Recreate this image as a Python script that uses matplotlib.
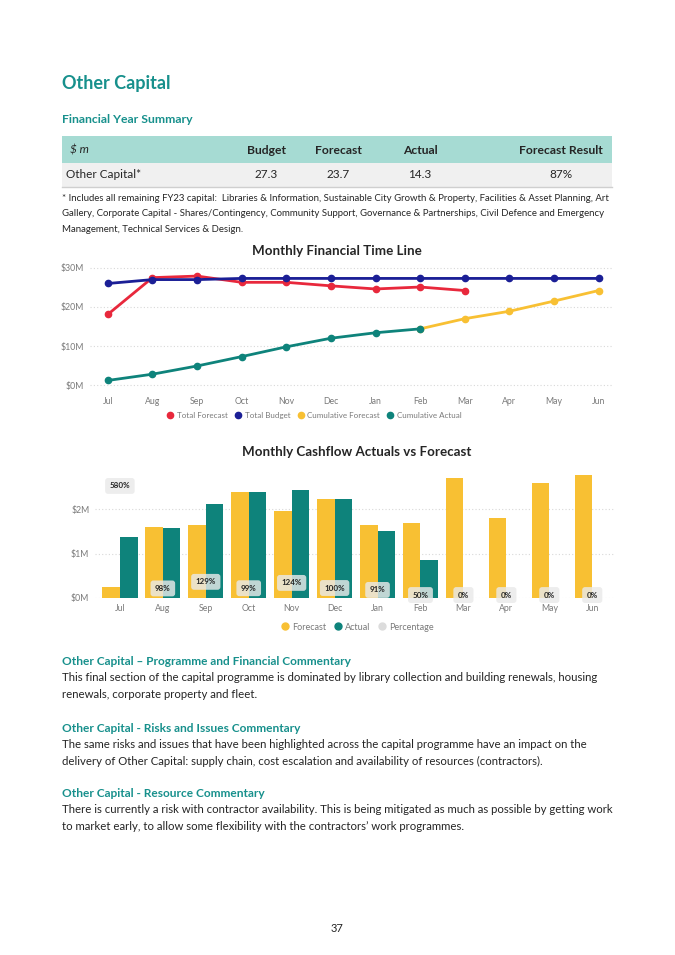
import numpy as np
import matplotlib
matplotlib.use("Agg")
import matplotlib.pyplot as plt
from matplotlib.patches import Rectangle
from matplotlib.lines import Line2D
from matplotlib.ticker import FuncFormatter

plt.rcParams['font.family'] = ['Lato', 'DejaVu Sans']

# ---- data ----
months = ['Jul', 'Aug', 'Sep', 'Oct', 'Nov', 'Dec', 'Jan', 'Feb', 'Mar', 'Apr', 'May', 'Jun']

table_cols = ['$ m', 'Budget', 'Forecast', 'Actual', 'Forecast Result']
table_row = ['Other Capital*', '27.3', '23.7', '14.3', '87%']

total_forecast = [18.1, 27.5, 27.9, 26.3, 26.3, 25.4, 24.6, 25.1, 24.2, np.nan, np.nan, np.nan]
total_budget = [26.0, 27.0, 27.0, 27.3, 27.3, 27.3, 27.3, 27.3, 27.3, 27.3, 27.3, 27.3]
cum_forecast = [np.nan, np.nan, np.nan, np.nan, np.nan, np.nan, np.nan, 14.4, 17.0, 18.9, 21.5, 24.2]
cum_actual = [1.2, 2.8, 4.9, 7.3, 9.8, 12.0, 13.4, 14.4, np.nan, np.nan, np.nan, np.nan]

bar_forecast = [0.24, 1.60, 1.64, 2.39, 1.96, 2.22, 1.65, 1.68, 2.71, 1.81, 2.58, 2.76]
bar_actual = [1.37, 1.57, 2.11, 2.38, 2.43, 2.22, 1.50, 0.85, 0, 0, 0, 0]
percentage = [580, 98, 129, 99, 124, 100, 91, 50, 0, 0, 0, 0]

TEAL = '#17908c'
DARK = '#252525'
GREY = '#7a7a7a'
RED = '#e8283c'
NAVY = '#1b1f96'
YELLOW = '#f8c033'
GREEN = '#0e837b'

W, H = 675, 955
fig = plt.figure(figsize=(W / 100, H / 100), dpi=100)
fig.patch.set_facecolor('white')


def fx(x):
    return x / W


def fy(y):
    return 1 - y / H


# ---- headings & table ----
fig.text(fx(62), fy(83), 'Other Capital', fontsize=13, fontweight='bold', color=TEAL, va='center')
fig.text(fx(62), fy(119), 'Financial Year Summary', fontsize=8.8, fontweight='bold', color=TEAL, va='center')

fig.patches.append(Rectangle((fx(62), fy(163)), fx(550), 27 / H, transform=fig.transFigure,
                             facecolor='#a6dbd3', edgecolor='none'))
fig.patches.append(Rectangle((fx(62), fy(187)), fx(550), 24 / H, transform=fig.transFigure,
                             facecolor='#f0f0f0', edgecolor='none'))
fig.lines.append(Line2D([fx(62), fx(612)], [fy(187), fy(187)], transform=fig.transFigure,
                        color='#cfcfcf', lw=1))
col_x = [70, 266, 338, 420, 561]
for i, (c, v) in enumerate(zip(table_cols, table_row)):
    ha = 'left' if i == 0 else 'center'
    if i == 0:
        fig.text(fx(col_x[i]), fy(150), c, fontsize=8.5, fontstyle='italic', color=DARK, ha=ha, va='center')
    else:
        fig.text(fx(col_x[i]), fy(150), c, fontsize=8.7, fontweight='bold', color=DARK, ha=ha, va='center')
    fig.text(fx(col_x[i] if i else 66), fy(175), v, fontsize=8.5, color=DARK, ha=ha, va='center')

foot = ["* Includes all remaining FY23 capital:  Libraries & Information, Sustainable City Growth & Property, Facilities & Asset Planning, Art",
        "Gallery, Corporate Capital - Shares/Contingency, Community Support, Governance & Partnerships, Civil Defence and Emergency",
        "Management, Technical Services & Design."]
for i, line in enumerate(foot):
    fig.text(fx(62), fy(198 + 15.5 * i), line, fontsize=6.9, color=DARK, va='center')

# ---- line chart ----
x = np.arange(len(months))
ax1 = fig.add_axes([fx(90), fy(391), fx(522), 129 / H])
ax1.set_xlim(-0.4, 11.3)
ax1.set_ylim(-1.5, 31.5)
ax1.plot(x, cum_actual, color=GREEN, lw=2, marker='o', ms=4.5, zorder=3)
ax1.plot(x, cum_forecast, color=YELLOW, lw=2, marker='o', ms=4.5, zorder=2)
ax1.plot(x, total_budget, color=NAVY, lw=2, marker='o', ms=4.5, zorder=3)
ax1.plot(x, total_forecast, color=RED, lw=2, marker='o', ms=4.5, zorder=2)
ax1.set_yticks([0, 10, 20, 30])
ax1.yaxis.set_major_formatter(FuncFormatter(lambda v, p: '$%dM' % v))
ax1.set_xticks(x)
ax1.set_xticklabels(months)
ax1.grid(axis='y', color='#d8d8d8', ls=(0, (1, 2)), lw=0.8)
ax1.tick_params(length=0, labelsize=6.3, labelcolor=GREY, pad=4)
for sp in ax1.spines.values():
    sp.set_visible(False)
fig.text(fx(337), fy(251), 'Monthly Financial Time Line', fontsize=9.6, fontweight='bold', color=DARK,
         ha='center', va='center')
h1 = [Line2D([], [], ls='none', marker='o', ms=4.5, color=c) for c in [RED, NAVY, YELLOW, GREEN]]
fig.legend(h1, ['Total Forecast', 'Total Budget', 'Cumulative Forecast', 'Cumulative Actual'],
           loc='center', bbox_to_anchor=(fx(312), fy(415)), ncol=4, frameon=False, fontsize=5.8,
           handletextpad=-0.2, columnspacing=0.3, labelcolor=GREY)

# ---- bar chart ----
ax2 = fig.add_axes([fx(95), fy(598), fx(520), 128 / H])
bw = 0.41
ax2.bar(x - bw / 2, bar_forecast, bw, color=YELLOW, zorder=2)
ax2.bar(x + bw / 2, bar_actual, bw, color=GREEN, zorder=2)
ax2.set_xlim(-0.58, 11.53)
ax2.set_ylim(0, 2.88)
ax2.set_yticks([0, 1, 2])
ax2.yaxis.set_major_formatter(FuncFormatter(lambda v, p: '$%dM' % v))
ax2.set_xticks(x)
ax2.set_xticklabels(months)
ax2.grid(axis='y', color='#d8d8d8', ls=(0, (1, 2)), lw=0.8, zorder=0)
ax2.tick_params(length=0, labelsize=6.3, labelcolor=GREY, pad=4)
for sp in ax2.spines.values():
    sp.set_visible(False)

ax3 = ax2.twinx()
ax3.set_ylim(53, 655)
ax3.set_yticks([])
for sp in ax3.spines.values():
    sp.set_visible(False)
for xi, p in zip(x, percentage):
    ax3.text(xi, max(p, 67), '%d%%' % p, fontsize=5.8, fontweight='bold', color=DARK,
             ha='center', va='center', zorder=5,
             bbox=dict(boxstyle='round,pad=0.55,rounding_size=0.35', fc='#e9e9e9', ec='none', alpha=0.82))

fig.text(fx(357), fy(452), 'Monthly Cashflow Actuals vs Forecast', fontsize=9.6, fontweight='bold', color=DARK,
         ha='center', va='center')
h2 = [Line2D([], [], ls='none', marker='o', ms=5, color=c) for c in [YELLOW, GREEN, '#dcdcdc']]
fig.legend(h2, ['Forecast', 'Actual', 'Percentage'],
           loc='center', bbox_to_anchor=(fx(355), fy(627)), ncol=3, frameon=False, fontsize=6.5,
           handletextpad=-0.2, columnspacing=0.3, labelcolor=GREY)

# ---- commentary ----
sections = [
    (661, 'Other Capital \u2013 Programme and Financial Commentary',
     ['This final section of the capital programme is dominated by library collection and building renewals, housing',
      'renewals, corporate property and fleet.']),
    (728, 'Other Capital - Risks and Issues Commentary',
     ['The same risks and issues that have been highlighted across the capital programme have an impact on the',
      'delivery of Other Capital: supply chain, cost escalation and availability of resources (contractors).']),
    (793, 'Other Capital - Resource Commentary',
     ['There is currently a risk with contractor availability. This is being mitigated as much as possible by getting work',
      'to market early, to allow some flexibility with the contractors\u2019 work programmes.']),
]
for y0, head, lines in sections:
    fig.text(fx(62), fy(y0), head, fontsize=8.6, fontweight='bold', color=TEAL, va='center')
    for i, line in enumerate(lines):
        fig.text(fx(62), fy(y0 + 16.5 + 17 * i), line, fontsize=8.2, color=DARK, va='center')

fig.text(fx(337), fy(928), '37', fontsize=8, color=DARK, ha='center', va='center')

fig.savefig('out.png', dpi=100, facecolor='white')
